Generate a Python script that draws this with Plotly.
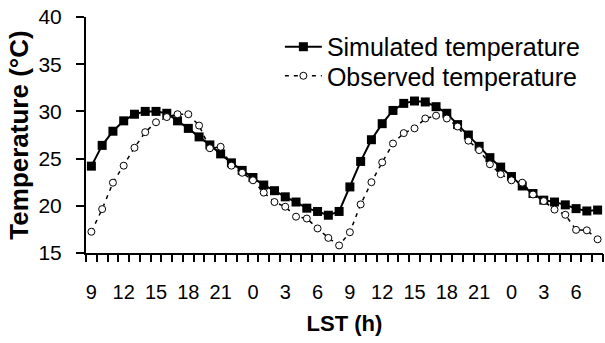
import plotly.graph_objects as go

hours = [9,10,11,12,13,14,15,16,17,18,19,20,21,22,23,
         0,1,2,3,4,5,6,7,8,9,10,11,12,13,14,15,16,17,18,19,20,21,22,23,
         0,1,2,3,4,5,6,7,8]
simulated = [24.2, 26.4, 27.9, 29.0, 29.7, 30.0, 30.0, 29.8, 29.0, 28.2,
             27.3, 26.45, 25.5, 24.55, 23.75, 23.0, 22.2, 21.6, 20.95, 20.4,
             19.75, 19.4, 19.0, 19.4, 22.0, 24.7, 27.0, 28.7, 30.1, 30.85,
             31.1, 31.0, 30.5, 29.8, 28.6, 27.5, 26.3, 25.1, 24.1, 23.1,
             22.1, 21.3, 20.6, 20.4, 20.1, 19.7, 19.45, 19.55]
observed = [17.25, 19.65, 22.45, 24.25, 26.15, 27.8, 28.85, 29.4, 29.7, 29.7,
            28.5, 26.1, 26.25, 24.25, 23.5, 22.7, 21.4, 20.4, 19.9, 18.85,
            18.65, 17.6, 16.6, 15.8, 17.2, 20.15, 22.5, 24.6, 26.6, 27.7,
            28.2, 29.25, 29.55, 29.25, 28.4, 26.9, 25.9, 24.4, 23.35, 22.7,
            22.45, 21.2, 20.5, 19.6, 19.05, 17.45, 17.4, 16.45]

x = list(range(len(hours)))
tick_idx = [i for i in x if i % 3 == 0]
tick_txt = [str(hours[i]) for i in tick_idx]
boundaries = [i - 0.5 for i in range(len(hours) + 1)]

FONT = "Liberation Sans, Arial, sans-serif"

fig = go.Figure()
fig.add_trace(go.Scatter(
    x=x, y=simulated, name="Simulated temperature", mode="lines+markers",
    line=dict(color="black", width=2),
    marker=dict(symbol="square", size=9, color="black"),
    legend="legend",
))
fig.add_trace(go.Scatter(
    x=x, y=observed, name="Observed temperature", mode="lines+markers",
    line=dict(color="black", width=1.5, dash="4px,5px"),
    marker=dict(symbol="circle", size=7, color="white",
                line=dict(color="black", width=1)),
    legend="legend2",
))
# empty helper trace so the hourly tick axis (x2) is drawn
fig.add_trace(go.Scatter(x=[], y=[], xaxis="x2", yaxis="y",
                         showlegend=False, hoverinfo="skip"))

leg_common = dict(xanchor="left", yanchor="middle", itemwidth=37,
                  font=dict(size=25, family=FONT, color="black"),
                  bgcolor="rgba(0,0,0,0)", borderwidth=0)

xrange = [-0.5, len(x) - 0.5]

fig.update_layout(
    width=605, height=343,
    margin=dict(l=86, r=2, t=17, b=90),
    plot_bgcolor="white", paper_bgcolor="white",
    font=dict(family=FONT, color="black", size=20),
    showlegend=True,
    legend=dict(x=0.375, y=0.873, **leg_common),
    legend2=dict(x=0.375, y=0.75, **leg_common),
    xaxis=dict(
        range=xrange, showline=True, linecolor="black",
        linewidth=2, showgrid=False, zeroline=False,
        tickvals=tick_idx, ticktext=tick_txt,
        ticks="outside", ticklen=20, tickcolor="rgba(0,0,0,0)",
        tickfont=dict(size=20),
        title=dict(text="<b>LST (h)</b>", font=dict(size=22), standoff=14),
    ),
    xaxis2=dict(
        range=xrange, overlaying="x", anchor="y", side="bottom",
        showline=False, showgrid=False, zeroline=False,
        tickvals=boundaries, showticklabels=False,
        ticks="outside", ticklen=8, tickwidth=1.5, tickcolor="black",
    ),
    yaxis=dict(
        range=[15, 40], dtick=5, showline=True, linecolor="black",
        linewidth=2, showgrid=False, zeroline=False,
        ticks="outside", ticklen=8, tickwidth=1.5, tickcolor="black",
        ticklabelstandoff=10,
        tickfont=dict(size=21),
        title=dict(text="<b>Temperature (°C)</b>", font=dict(size=26), standoff=2),
    ),
)

fig.write_html("out.html")
